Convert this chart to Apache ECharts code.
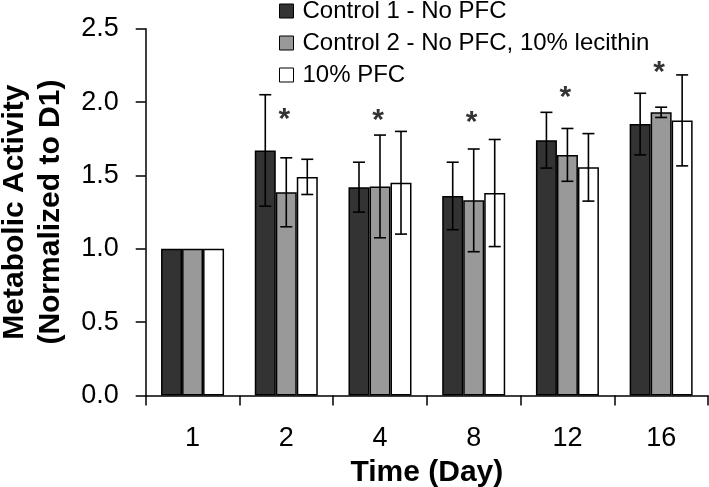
<!DOCTYPE html>
<html>
<head>
<meta charset="utf-8">
<script src="https://cdn.jsdelivr.net/npm/echarts@6/dist/echarts.min.js"></script>
<style>html,body{margin:0;padding:0;background:#fff}#c{width:709px;height:487px}</style>
</head>
<body>
<div id="c"></div>
<script>
var categories = ['1', '2', '4', '8', '12', '16'];
var seriesNames = ['Control 1 - No PFC', 'Control 2 - No PFC, 10% lecithin', '10% PFC'];
var control1 = [1.0, 1.67, 1.42, 1.36, 1.74, 1.85];
var control1Err = [0, 0.38, 0.17, 0.23, 0.19, 0.21];
var control2 = [1.0, 1.385, 1.425, 1.33, 1.64, 1.93];
var control2Err = [0, 0.235, 0.35, 0.35, 0.18, 0.035];
var pfc = [1.0, 1.49, 1.45, 1.38, 1.555, 1.875];
var pfcErr = [0, 0.12, 0.35, 0.365, 0.23, 0.31];
var starValues = ['-', 1.93, 1.92, 1.91, 2.08, 2.25];
var yTicks = [0, 0.5, 1.0, 1.5, 2.0, 2.5];

var FONT = '"Liberation Sans", Arial, sans-serif';
var colors = ['#333333', '#999999', '#ffffff'];
var barW = 21;

function errSeries(vals, errs, offsetIdx) {
  return {
    type: 'custom',
    z: 5,
    silent: true,
    data: vals.map(function (v, i) { return [i, v, errs[i]]; }),
    renderItem: function (params, api) {
      var i = api.value(0), v = api.value(1), e = api.value(2);
      if (!e) return null;
      var top = api.coord([i, v + e]);
      var bot = api.coord([i, v - e]);
      var x = top[0] + (offsetIdx - 1) * barW;
      var hw = 6;
      var st = { stroke: '#000', lineWidth: 1.6 };
      return {
        type: 'group',
        children: [
          { type: 'line', shape: { x1: x, y1: top[1], x2: x, y2: bot[1] }, style: st },
          { type: 'line', shape: { x1: x - hw, y1: top[1], x2: x + hw, y2: top[1] }, style: st },
          { type: 'line', shape: { x1: x - hw, y1: bot[1], x2: x + hw, y2: bot[1] }, style: st }
        ]
      };
    }
  };
}

var chart = echarts.init(document.getElementById('c'), null, { renderer: 'canvas' });
chart.setOption({
  animation: false,
  backgroundColor: '#fff',
  textStyle: { fontFamily: FONT },
  legend: {
    orient: 'vertical',
    left: 274,
    top: -6,
    itemWidth: 14,
    itemHeight: 14,
    itemGap: 8,
    icon: 'rect',
    data: seriesNames,
    textStyle: { fontFamily: FONT, fontSize: 24, color: '#000', padding: [0, 0, 0, 4] },
    itemStyle: { borderColor: '#000', borderWidth: 1 }
  },
  grid: { left: 145.7, right: 1, top: 28.7, bottom: 91.5, containLabel: false, outerBoundsMode: 'none' },
  xAxis: {
    type: 'category',
    data: categories,
    name: 'Time (Day)',
    nameLocation: 'middle',
    nameGap: 58,
    nameTextStyle: { fontFamily: FONT, fontSize: 30, fontWeight: 'bold', color: '#000' },
    axisLine: { lineStyle: { color: '#000', width: 1.5 } },
    axisTick: { show: true, length: 10, lineStyle: { color: '#000', width: 1.5 } },
    axisLabel: { fontFamily: FONT, fontSize: 27, color: '#000', margin: 30 },
    splitLine: { show: false }
  },
  yAxis: {
    type: 'value',
    min: yTicks[0],
    max: yTicks[yTicks.length - 1],
    interval: 0.5,
    name: 'Metabolic Activity\n(Normalized to D1)',
    nameLocation: 'middle',
    nameGap: 77,
    nameTextStyle: { fontFamily: FONT, fontSize: 30, fontWeight: 'bold', color: '#000', lineHeight: 36 },
    axisLine: { show: true, lineStyle: { color: '#000', width: 1.5 } },
    axisTick: { show: true, length: 10, lineStyle: { color: '#000', width: 1.5 } },
    axisLabel: { fontFamily: FONT, fontSize: 27, color: '#000', margin: 27,
      formatter: function (v) { return v.toFixed(1); } },
    splitLine: { show: false }
  },
  series: [
    { name: seriesNames[0], type: 'bar', data: control1, barWidth: barW, barGap: '0%',
      itemStyle: { color: colors[0], borderColor: '#000', borderWidth: 1.5 } },
    { name: seriesNames[1], type: 'bar', data: control2, barWidth: barW, barGap: '0%',
      itemStyle: { color: colors[1], borderColor: '#000', borderWidth: 1.5 } },
    { name: seriesNames[2], type: 'bar', data: pfc, barWidth: barW, barGap: '0%',
      itemStyle: { color: colors[2], borderColor: '#000', borderWidth: 1.5 } },
    errSeries(control1, control1Err, 0),
    errSeries(control2, control2Err, 1),
    errSeries(pfc, pfcErr, 2),
    {
      type: 'scatter',
      data: starValues,
      symbolSize: 0,
      silent: true,
      z: 6,
      label: {
        show: true,
        position: 'inside',
        formatter: '*',
        fontFamily: FONT,
        fontSize: 30,
        fontWeight: 'bold',
        color: '#000',
        offset: [-2, 7]
      }
    }
  ]
});
</script>
</body>
</html>
